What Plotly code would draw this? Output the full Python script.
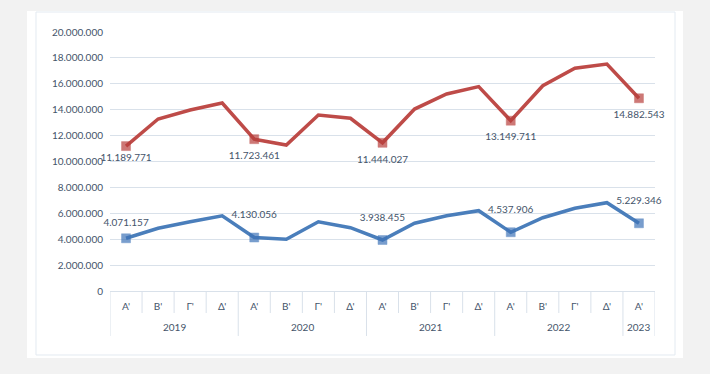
import plotly.graph_objects as go

years = ["2019"] * 4 + ["2020"] * 4 + ["2021"] * 4 + ["2022"] * 4 + ["2023"]
quarters = ["Α'", "Β'", "Γ'", "Δ'"] * 4 + ["Α'"]

red_values = [11189771, 13280000, 13980000, 14520000,
              11723461, 11270000, 13590000, 13340000,
              11444027, 14050000, 15210000, 15780000,
              13149711, 15850000, 17200000, 17530000,
              14882543]
blue_values = [4071157, 4840000, 5350000, 5810000,
               4130056, 3990000, 5350000, 4890000,
               3938455, 5230000, 5810000, 6200000,
               4537906, 5660000, 6390000, 6820000,
               5229346]

y_ticks = list(range(0, 20000001, 2000000))

RED = "#BE4B48"
BLUE = "#4A7EBB"
TXT = "#44546A"
GRID = "#D9E1EA"
FONT = "Lato, 'Open Sans', sans-serif"


def fmt(v):
    return f"{v:,}".replace(",", ".")


def labels(vals):
    return [fmt(v) if q == "Α'" else "" for v, q in zip(vals, quarters)]


cats = [f"{y} {q}" for y, q in zip(years, quarters)]
n = len(cats)
sizes = [9 if q == "Α'" else 0 for q in quarters]
# label offsets (the first labels sit closer to their points, as in the original)
red_pad = [10] + [18] * (n - 1)
blue_pad = [14] + [25] * (n - 1)

fig = go.Figure()
for vals, col, mcol in [(red_values, RED, "#B8403D"), (blue_values, BLUE, "#3F74B8")]:
    fig.add_trace(go.Scatter(
        x=cats, y=vals, mode="lines+markers",
        line=dict(color=col, width=3.5),
        marker=dict(symbol="square", size=sizes, color=mcol,
                    line=dict(width=0.5, color=mcol)),
        showlegend=False, hoverinfo="skip",
    ))

# data labels (invisible larger markers push the text away from the points)
fig.add_trace(go.Scatter(
    x=cats, y=red_values, mode="markers+text",
    marker=dict(size=red_pad, opacity=0),
    text=labels(red_values), textposition="bottom center",
    textfont=dict(family=FONT, size=10, color=TXT),
    showlegend=False, cliponaxis=False, hoverinfo="skip",
))
fig.add_trace(go.Scatter(
    x=cats, y=blue_values, mode="markers+text",
    marker=dict(size=blue_pad, opacity=0),
    text=labels(blue_values), textposition="top center",
    textfont=dict(family=FONT, size=10, color=TXT),
    showlegend=False, cliponaxis=False, hoverinfo="skip",
))

# white chart panel and faint border
fig.add_shape(type="rect", xref="paper", yref="paper",
              x0=-0.1523, x1=1.0514, y0=-0.2587, y1=1.0811,
              fillcolor="white", line=dict(width=0), layer="below")
fig.add_shape(type="rect", xref="paper", yref="paper",
              x0=-0.1358, x1=1.0367, y0=-0.2471, y1=1.0772,
              fillcolor="rgba(0,0,0,0)", line=dict(width=1, color="#E3EAF1"), layer="below")

# category separators (short) and year separators (long), year labels
year_starts = [i for i in range(n) if i == 0 or years[i] != years[i - 1]]
year_bounds = year_starts + [n]
for i in range(n + 1):
    long_line = i in year_bounds
    fig.add_shape(type="line", xref="x", yref="paper",
                  x0=i - 0.5, x1=i - 0.5, y0=0, y1=-0.1737 if long_line else -0.085,
                  line=dict(color=GRID, width=1))
for a, b in zip(year_bounds[:-1], year_bounds[1:]):
    fig.add_annotation(x=(a + b - 1) / 2, xref="x", y=-0.139, yref="paper",
                       text=years[a], showarrow=False, yanchor="middle",
                       font=dict(family=FONT, size=10, color=TXT))

fig.update_layout(
    width=710, height=374,
    margin=dict(l=110, r=55, t=32, b=83),
    paper_bgcolor="#F2F2F2", plot_bgcolor="white",
    separators=",.",
    font=dict(family=FONT, size=10, color=TXT),
    xaxis=dict(
        type="category", range=[-0.5, n - 0.5],
        tickvals=cats, ticktext=quarters,
        showline=True, linecolor=GRID, linewidth=1,
        ticks="", ticklabelstandoff=6,
        showgrid=False,
        tickfont=dict(family=FONT, size=10, color=TXT),
    ),
    yaxis=dict(
        range=[0, 20000000], tickvals=y_ticks, tickformat=",d",
        showgrid=True, gridcolor=GRID, gridwidth=1, zeroline=False,
        showline=False, ticks="", ticklabelstandoff=6,
        tickfont=dict(family=FONT, size=10, color=TXT),
    ),
)

fig.write_html("out.html", post_script="document.body.style.margin='0';",
               config={"displayModeBar": False})
